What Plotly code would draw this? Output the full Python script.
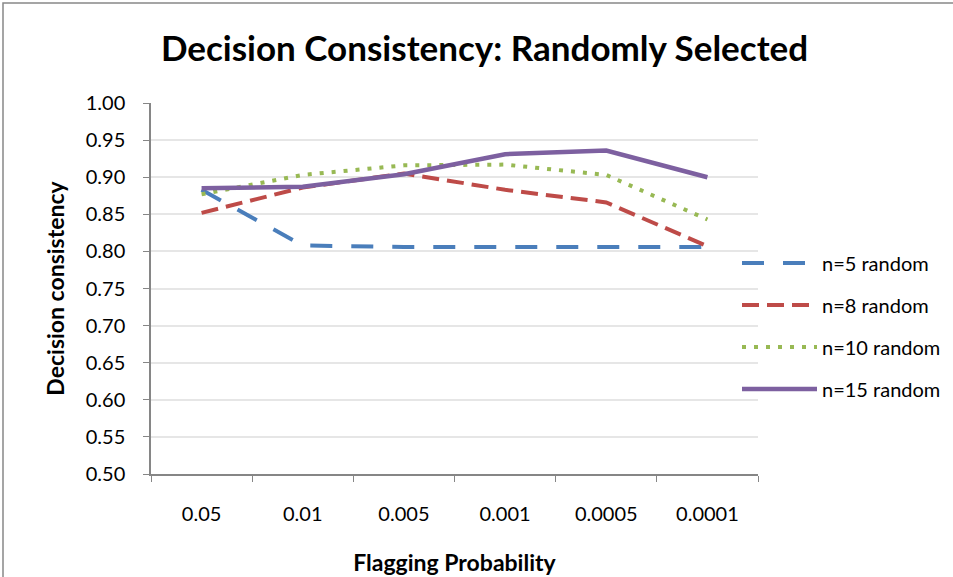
import plotly.graph_objects as go

categories = ["0.05", "0.01", "0.005", "0.001", "0.0005", "0.0001"]
n5 = [0.883, 0.808, 0.806, 0.806, 0.806, 0.806]
n8 = [0.852, 0.886, 0.905, 0.883, 0.866, 0.807]
n10 = [0.877, 0.903, 0.916, 0.917, 0.903, 0.843]
n15 = [0.885, 0.887, 0.904, 0.931, 0.936, 0.900]
y_ticks = [0.50, 0.55, 0.60, 0.65, 0.70, 0.75, 0.80, 0.85, 0.90, 0.95, 1.00]

FONT = "Lato"
series = [
    ("n=5 random", n5, "#4A7EBB", "22px,19px", 4),
    ("n=8 random", n8, "#BE4B48", "17px,8px", 4),
    ("n=10 random", n10, "#98B954", "4px,8px", 4),
    ("n=15 random", n15, "#7D60A0", "solid", 4.5),
]

fig = go.Figure()
for i, (name, vals, color, dash, w) in enumerate(series):
    fig.add_trace(go.Scatter(
        x=categories, y=vals, mode="lines", name=name,
        legendgroup=f"g{i}",
        line=dict(color=color, width=w, dash=dash),
    ))

L, R, T, B = 151, 953 - 758, 103, 577 - 474
PW, PH = 953 - L - R, 577 - T - B

fig.update_layout(
    width=953, height=577,
    margin=dict(l=L, r=R, t=T, b=B, pad=0, autoexpand=False),
    paper_bgcolor="white", plot_bgcolor="white",
    font=dict(family=FONT, color="black", size=20),
    title=dict(text="<b>Decision Consistency: Randomly Selected</b>",
               x=(163 + 806) / 2 / 953, xanchor="center",
               y=1 - 49 / 577, yanchor="middle",
               font=dict(size=35, family=FONT)),
    showlegend=True,
    legend=dict(x=(737 - L) / PW, xanchor="left", y=(474 - 326) / PH, yanchor="middle",
                font=dict(size=20, family=FONT), itemwidth=75,
                tracegroupgap=13, bgcolor="rgba(0,0,0,0)"),
    xaxis=dict(
        type="category", tickson="boundaries", ticks="outside", ticklen=6,
        tickcolor="#868686", showline=True, linecolor="#868686", linewidth=1.5,
        showgrid=False, ticklabelstandoff=21, tickfont=dict(size=20),
        title=dict(text="<b>Flagging Probability</b>", font=dict(size=23), standoff=31),
        range=[-0.5, 5.5], zeroline=False, automargin=False,
    ),
    yaxis=dict(
        range=[0.5, 1.0], tickvals=y_ticks, tickformat=".2f", ticks="outside",
        ticklen=6, tickcolor="#868686", showline=True, linecolor="#868686",
        linewidth=1.5, showgrid=True, gridcolor="#E6E6E6", gridwidth=1.5,
        ticklabelstandoff=14, tickfont=dict(size=20), zeroline=False,
        title=dict(text="<b>Decision consistency</b>", font=dict(size=23), standoff=15),
        automargin=False,
    ),
)

# chart border (Excel chart area)
fig.add_shape(type="rect", xref="paper", yref="paper",
              x0=(3 - L) / PW, x1=(990 - L) / PW,
              y0=(474 - 620) / PH, y1=(474 - 3) / PH,
              line=dict(color="#888888", width=1.5), fillcolor="rgba(0,0,0,0)",
              layer="below")

fig.write_html("out.html")
